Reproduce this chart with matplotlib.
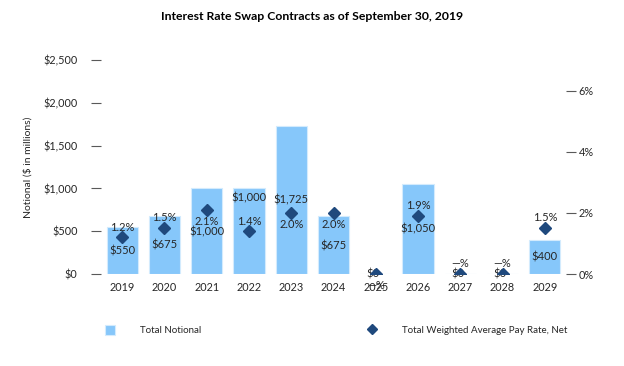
import numpy as np
import matplotlib
matplotlib.use("Agg")
import matplotlib.pyplot as plt
from matplotlib.ticker import FuncFormatter

plt.rcParams["font.family"] = ["Lato", "DejaVu Sans"]

# data
years = ["2019", "2020", "2021", "2022", "2023", "2024", "2025", "2026", "2027", "2028", "2029"]
notional = [550, 675, 1000, 1000, 1725, 675, 0, 1050, 0, 0, 400]
pay_rate = [1.2, 1.5, 2.1, 1.4, 2.0, 2.0, 0.0, 1.9, 0.0, 0.0, 1.5]

# label offsets (pixels, down is positive) relative to the diamond
pct_offset = [-10, -11, 12, -10, 12, 12, 11, -11, -11, -11, -11]
amt_offset = [14, 17, 22, -33, -13, 33, 0, 13, 0, 0, 29]

bar_color = "#86C7FA"
dot_color = "#1F497D"
text_color = "#262626"

fig = plt.figure(figsize=(6.24, 3.66), dpi=100)
ax = fig.add_axes([0.162, 0.251, 0.745, 0.585])
ax2 = ax.twinx()

x = np.arange(len(years))
ax.bar(x, notional, 0.74, color=bar_color, edgecolor="#D3EBFD", linewidth=0.8,
       label="Total Notional", zorder=2)
ax2.plot(x, pay_rate, "D", color=dot_color, markersize=6, linestyle="none",
         label="Total Weighted Average Pay Rate, Net", zorder=3)

ax.set_xlim(-0.5, len(years) - 0.5)
ax.set_ylim(0, 2500)
ax2.set_ylim(0, 7)
ax.set_yticks([0, 500, 1000, 1500, 2000, 2500])
ax2.set_yticks([0, 2, 4, 6])
ax.yaxis.set_major_formatter(FuncFormatter(lambda v, p: "${:,.0f}".format(v)))
ax2.yaxis.set_major_formatter(FuncFormatter(lambda v, p: "{:.0f}%".format(v)))
ax.set_xticks(x)
ax.set_xticklabels(years)

for a in (ax, ax2):
    for s in a.spines.values():
        s.set_visible(False)
ax.tick_params(axis="y", length=7, width=0.8, color="#595959", pad=10,
               labelsize=7.8, labelcolor=text_color)
ax2.tick_params(axis="y", length=7, width=0.8, color="#595959", pad=2,
                labelsize=7.8, labelcolor=text_color)
ax.tick_params(axis="x", length=0, pad=6, labelsize=7.8, labelcolor=text_color)

ax.set_ylabel("Notional ($ in millions)", fontsize=7.5, color=text_color, labelpad=8)

# data labels
for i in range(len(years)):
    pct = "—%" if pay_rate[i] == 0 else "{:.1f}%".format(pay_rate[i])
    amt = "${:,.0f}".format(notional[i])
    ax2.annotate(pct, (x[i], pay_rate[i]), xytext=(0, -pct_offset[i] * 0.72),
                 textcoords="offset points", ha="center", va="center",
                 fontsize=8, color=text_color, zorder=4)
    dx = -2 if notional[i] == 0 else 0
    ax2.annotate(amt, (x[i], pay_rate[i]), xytext=(dx, -amt_offset[i] * 0.72),
                 textcoords="offset points", ha="center", va="center",
                 fontsize=8, color=text_color, zorder=2)

fig.suptitle("Interest Rate Swap Contracts as of September 30, 2019",
             x=0.5, y=0.97, fontsize=8.8, fontweight="bold", color="#000000")

h1, l1 = ax.get_legend_handles_labels()
h2, l2 = ax2.get_legend_handles_labels()
fig.legend(h1 + h2, l1 + l2, loc="center left", bbox_to_anchor=(0.155, 0.098),
           ncol=2, frameon=False, fontsize=7, handlelength=1, handleheight=1.2,
           handletextpad=2.6, columnspacing=17, labelcolor=text_color,
           markerscale=0.8)

fig.savefig("out.png", dpi=100)
